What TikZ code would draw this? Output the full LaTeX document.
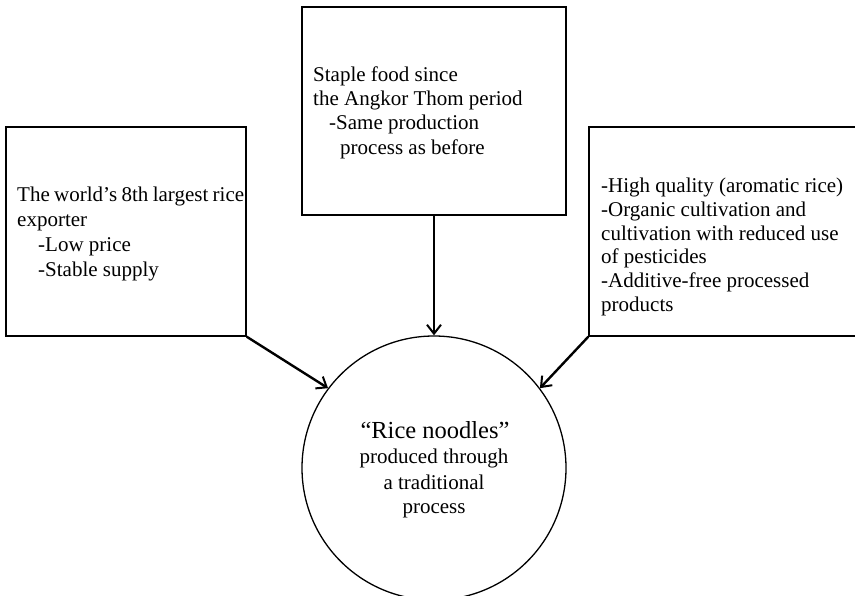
\documentclass[tikz,border=0pt]{standalone}
\usepackage{fontspec}
\setmainfont{Liberation Serif}
\usetikzlibrary{arrows.meta}
\begin{document}
\begin{tikzpicture}[x=1pt,y=-1pt,
  box/.style={draw=black,line width=1.4pt,rectangle,inner sep=0pt},
  hub/.style={draw=black,line width=1.3pt,circle,inner sep=0pt,minimum size=264pt},
  txt/.style={anchor=base west,inner sep=0pt,font=\fontsize{21}{24}\selectfont},
  ctxt/.style={anchor=base,inner sep=0pt,font=\fontsize{21}{24}\selectfont},
  arr/.style={line width=2.4pt,-{Straight Barb[length=9pt,width=14pt,line width=2pt]}}]
\clip (0,0) rectangle (855,596);
\fill[white] (0,0) rectangle (855,596);

% boxes and the central circle
\node[box,minimum width=240pt,minimum height=209pt] (left) at (126,231.5) {};
\node[box,minimum width=264pt,minimum height=208pt] (mid) at (434,111) {};
\node[box,minimum width=268pt,minimum height=209pt] (right) at (723,231.5) {};
\node[hub] (circ) at (434,468) {};

% left box text
\node[txt] (l1) at (17,202) {\makebox[227pt][s]{The world’s 8th largest rice}};
\node[txt] (l2) at (17,227) {exporter};
\node[txt] (l3) at (38,252) {-Low price};
\node[txt] (l4) at (38,277) {-Stable supply};

% middle box text
\node[txt] (m1) at (313,82) {Staple food since};
\node[txt] (m2) at (313,106) {the Angkor Thom period};
\node[txt] (m3) at (329,130) {-Same production};
\node[txt] (m4) at (340,155) {process as before};

% right box text
\node[txt] (r1) at (601,193) {-High quality (aromatic rice)};
\node[txt] (r2) at (601,217) {-Organic cultivation and};
\node[txt] (r3) at (601,241) {cultivation with reduced use};
\node[txt] (r4) at (601,264) {of pesticides};
\node[txt] (r5) at (601,288) {-Additive-free processed};
\node[txt] (r6) at (601,312) {products};

% circle text
\node[ctxt,font=\fontsize{24.5}{28}\selectfont] (c1) at (435,438) {“Rice noodles”};
\node[ctxt] (c2) at (434,463) {produced through};
\node[ctxt] (c3) at (434,489) {a traditional};
\node[ctxt] (c4) at (434,513) {process};

% connectors
\draw[arr] (left.south east) -- (circ.143);
\draw[arr] (mid.south) -- (circ.north);
\draw[arr] (right.south west) -- (circ.37);
\end{tikzpicture}
\end{document}
